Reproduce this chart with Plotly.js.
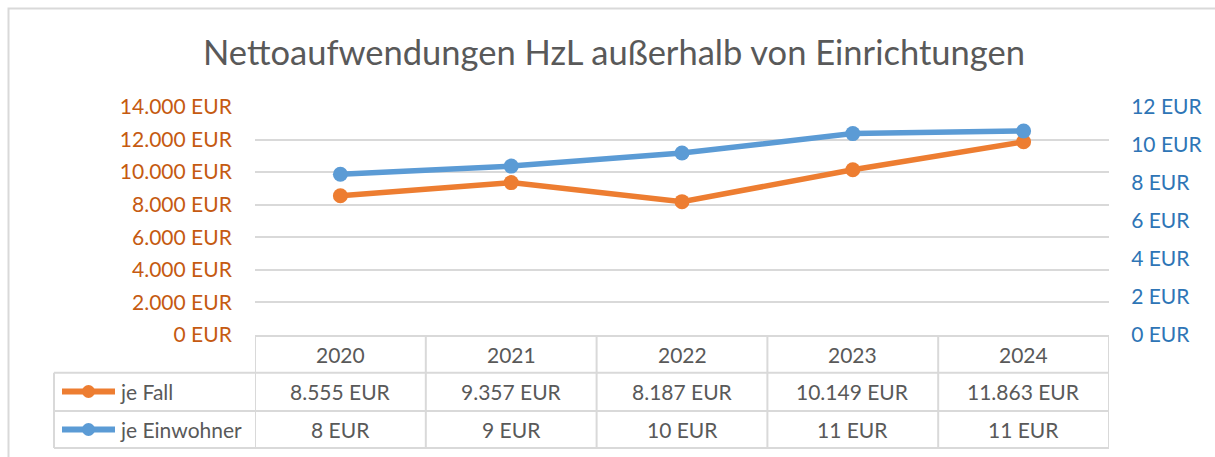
<!DOCTYPE html>
<html><head><meta charset="utf-8">
<script src="https://cdn.plot.ly/plotly-3.0.1.min.js"></script>
<style>html,body{margin:0;padding:0;background:#fff;}</style>
</head><body><div id="chart" style="width:1215px;height:457px;"></div>
<script>
// ---- data ----
const years = [2020, 2021, 2022, 2023, 2024];
const jeFall = [8555, 9357, 8187, 10149, 11863];
const jeEinwohner = [8.46, 8.89, 9.58, 10.60, 10.74];
const seriesNames = ['je Fall', 'je Einwohner'];
const chartTitle = 'Nettoaufwendungen HzL außerhalb von Einrichtungen';

// ---- styling ----
const FONT = 'Lato, "Open Sans", sans-serif';
const TXT = '#595959';
const ORANGE = '#ED7D31', BLUE = '#5B9BD5';
const GRID = '#d9d9d9';
const W = 1215, H = 457, L = 255, R = 1109, T = 107, B = 335;
const px = p => (p - L) / (R - L);
const py = p => (B - p) / (B - T);

function fmtThousands(v) {
  return String(Math.round(v)).replace(/\B(?=(\d{3})+(?!\d))/g, '.') + ' EUR';
}

const rowY = [354, 391.5, 429.5];
const lineYs = [372.7, 411, 448];

const shapes = [];
// outer chart border
shapes.push({type:'rect', xref:'paper', yref:'paper', x0:px(8.5), x1:px(1240), y0:py(8.5), y1:py(480),
  line:{color:GRID, width:2}, fillcolor:'rgba(0,0,0,0)', layer:'below'});
// table horizontal lines
shapes.push({type:'line', xref:'paper', yref:'paper', x0:0, x1:1, y0:py(336), y1:py(336), line:{color:GRID, width:2}});
lineYs.forEach(y => shapes.push({type:'line', xref:'paper', yref:'paper', x0:px(54), x1:1, y0:py(y), y1:py(y), line:{color:GRID, width:2}}));
// table vertical lines
years.concat([years[years.length-1] + 1]).forEach(yr => shapes.push({type:'line', xref:'x', yref:'paper', x0:yr - 0.5, x1:yr - 0.5, y0:py(336), y1:py(448), line:{color:GRID, width:2}}));
shapes.push({type:'line', xref:'paper', yref:'paper', x0:px(54), x1:px(54), y0:py(372.7), y1:py(448), line:{color:GRID, width:2}});
// legend keys
[ORANGE, BLUE].forEach((c, i) => {
  const y = py(rowY[i + 1]);
  shapes.push({type:'line', xref:'paper', yref:'paper', x0:px(62), x1:px(115), y0:y, y1:y, line:{color:c, width:6}});
  shapes.push({type:'circle', xref:'paper', yref:'paper', xsizemode:'pixel', ysizemode:'pixel',
    xanchor:px(88.5), yanchor:y, x0:-6.5, x1:6.5, y0:-6.5, y1:6.5, fillcolor:c, line:{width:0}});
});

const annotations = [];
const cellFont = {family:FONT, size:21, color:TXT};
years.forEach((yr, i) => {
  annotations.push({xref:'x', yref:'paper', x:yr, y:py(rowY[0]), text:String(yr), showarrow:false, font:cellFont, xanchor:'center', yanchor:'middle'});
  annotations.push({xref:'x', yref:'paper', x:yr, y:py(rowY[1]), text:fmtThousands(jeFall[i]), showarrow:false, font:cellFont, xanchor:'center', yanchor:'middle'});
  annotations.push({xref:'x', yref:'paper', x:yr, y:py(rowY[2]), text:Math.round(jeEinwohner[i]) + ' EUR', showarrow:false, font:cellFont, xanchor:'center', yanchor:'middle'});
});
seriesNames.forEach((n, i) => annotations.push({xref:'paper', yref:'paper', x:px(118), y:py(rowY[i + 1]), text:n, showarrow:false, font:cellFont, xanchor:'left', yanchor:'middle'}));

const traces = [
  {x:years, y:jeFall, name:seriesNames[0], type:'scatter', mode:'lines+markers', yaxis:'y',
    line:{color:ORANGE, width:5.5}, marker:{color:ORANGE, size:15}},
  {x:years, y:jeEinwohner, name:seriesNames[1], type:'scatter', mode:'lines+markers', yaxis:'y2',
    line:{color:BLUE, width:5.5}, marker:{color:BLUE, size:15}}
];

const layout = {
  width:W, height:H,
  margin:{l:L, r:W - R, t:T, b:H - B, pad:0},
  paper_bgcolor:'#fff', plot_bgcolor:'#fff',
  separators:',.',
  showlegend:false,
  font:{family:FONT, color:TXT},
  title:{text:chartTitle, font:{family:FONT, size:34.5, color:TXT}, xref:'container', yref:'container', x:614/W, y:1 - 53/H, xanchor:'center', yanchor:'middle'},
  xaxis:{range:[years[0] - 0.5, years[years.length-1] + 0.5], showgrid:false, zeroline:false, showticklabels:false, showline:false, fixedrange:true},
  yaxis:{range:[0, 14000], dtick:2000, tickformat:',d', ticksuffix:' EUR', showgrid:true, gridcolor:GRID, gridwidth:2, zeroline:false,
    ticks:'outside', ticklen:18, tickcolor:'rgba(0,0,0,0)', tickfont:{family:FONT, size:21, color:'#C55A11'}},
  yaxis2:{range:[0, 12], dtick:2, ticksuffix:' EUR', overlaying:'y', side:'right', showgrid:false, zeroline:false,
    ticks:'outside', ticklen:17, tickcolor:'rgba(0,0,0,0)', tickfont:{family:FONT, size:21, color:'#2E75B6'}},
  shapes:shapes,
  annotations:annotations
};

Plotly.newPlot('chart', traces, layout, {staticPlot:true, displayModeBar:false});
</script></body></html>
